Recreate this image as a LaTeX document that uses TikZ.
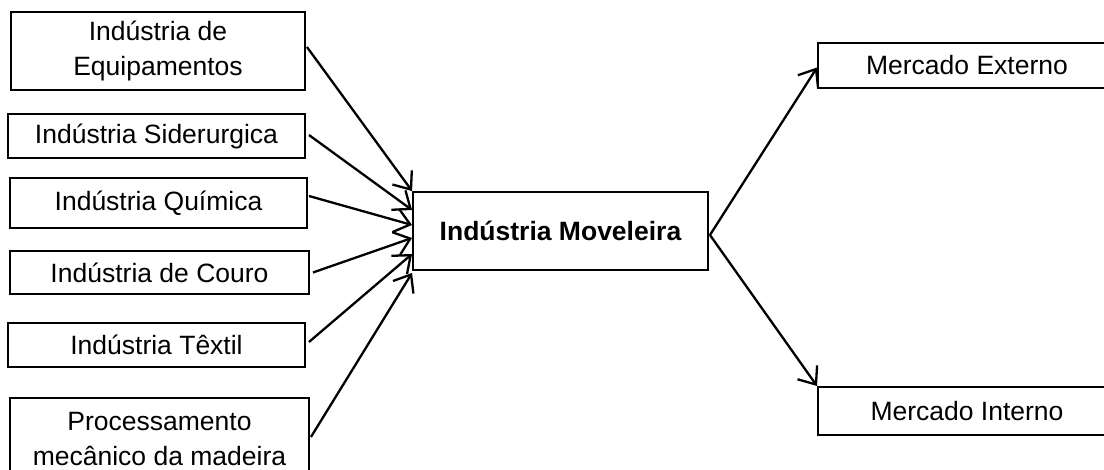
\documentclass[tikz,border=0pt]{standalone}
\usepackage{fontspec}
\setmainfont{Liberation Sans}
\usetikzlibrary{arrows.meta,calc}
\begin{document}
\begin{tikzpicture}[x=1pt,y=-1pt,
  box/.style={draw,line width=1.9pt,inner sep=0pt,align=center,
    font=\fontsize{26.5}{35}\selectfont},
  link/.style={line width=2.3pt,-{Straight Barb[length=15pt,width=24pt,line width=2.3pt]}}]
\useasboundingbox (0,0) rectangle (1104,470);
% suppliers
\node[box,minimum width=294pt,minimum height=78pt] (eq)   at (158,51)    {Indústria de\\Equipamentos};
\node[box,minimum width=297pt,minimum height=44pt] (sid)  at (156.5,136) {Indústria Siderurgica};
\node[box,minimum width=297pt,minimum height=50pt] (qui)  at (158.5,203) {Indústria Química};
\node[box,minimum width=299pt,minimum height=43pt] (cou)  at (159.5,272.5) {Indústria de Couro};
\node[box,minimum width=297pt,minimum height=44pt] (tex)  at (156.5,345) {Indústria Têxtil};
\node[box,minimum width=299pt,minimum height=82pt] (proc) at (159.5,439) {Processamento\\mecânico da madeira};
% central industry
\node[box,minimum width=295pt,minimum height=78pt,font=\fontsize{26.5}{35}\selectfont\bfseries] (mov) at (560.5,231) {Indústria Moveleira};
% markets
\node[box,minimum width=298pt,minimum height=45pt] (ext) at (967,65.5) {Mercado Externo};
\node[box,minimum width=298pt,minimum height=48pt] (int) at (967,411)  {Mercado Interno};
% flows into the furniture industry
\draw[link] ($(eq.east)+(1,-4)$) -- (mov.north west);
\draw[link] ($(sid.east)+(3,-1)$) -- ($(mov.west)+(0,-21)$);
\draw[link] ($(qui.east)+(1,-7)$) -- ($(mov.west)+(0,-6)$);
\draw[link] ($(cou.east)+(3,0)$) -- ($(mov.west)+(0,7)$);
\draw[link] ($(tex.east)+(3,-3)$) -- ($(mov.west)+(0,23)$);
\draw[link] ($(proc.east)+(1,-2)$) -- ($(mov.south west)+(0,2)$);
% flows to the markets
\draw[link] ($(mov.east)+(1,4)$) -- ($(ext.west)+(0,2)$);
\draw[link] ($(mov.east)+(1,4)$) -- (int.north west);
\end{tikzpicture}
\end{document}
